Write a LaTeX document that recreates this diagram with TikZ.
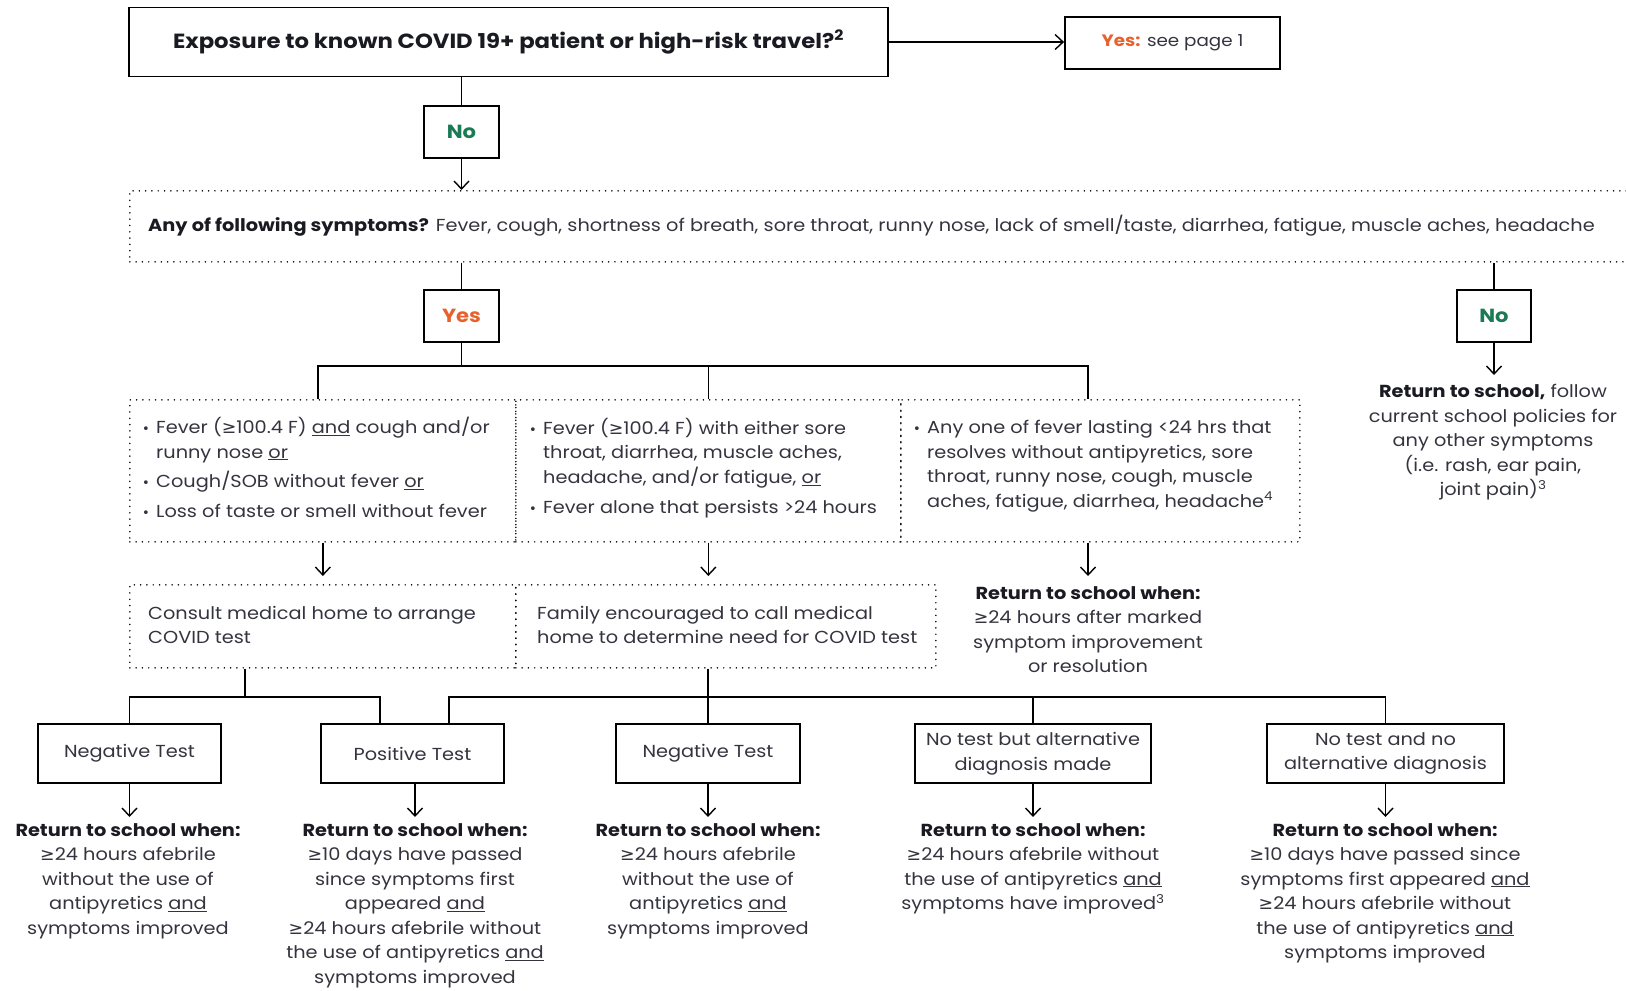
\documentclass[tikz,border=0pt]{standalone}
\usepackage{fontspec}
\setmainfont{Poppins}[FakeStretch=1.11]
\newfontfamily\symfont{DejaVu Sans}
\usetikzlibrary{arrows.meta}
\definecolor{txt}{HTML}{34343F}
\definecolor{dark}{HTML}{1A1A22}
\definecolor{yescol}{HTML}{E8602C}
\definecolor{nocol}{HTML}{1C7A55}
\newcommand{\bodysz}{\fontsize{17.4}{24.5}\selectfont}
\newcommand{\topsz}{\fontsize{20.5}{24}\selectfont}
\newcommand{\ynsz}{\fontsize{19}{24}\selectfont}
\newcommand{\GE}{{\symfont ≥}}
\newcommand{\bul}{\makebox[14pt][l]{{\symfont\fontsize{13}{13}\selectfont •}}}
\newcommand{\ind}{\makebox[14pt]{}}
\newcommand{\und}[1]{\underline{#1}}
\begin{document}
\begin{tikzpicture}[x=1pt,y=-1pt,
  box/.style={draw=black, line width=1.8pt, inner sep=0pt, align=center, font=\bodysz, text=txt},
  dbox/.style={draw=black, line width=1.7pt, dash pattern=on 0pt off 6.3pt, line cap=round, inner sep=0pt},
  ln/.style={line width=1.6pt},
  arr/.style={line width=1.4pt, -{Straight Barb[length=8pt,width=15pt,line width=1.4pt]}},
  txtn/.style={inner sep=0pt, text=txt, font=\bodysz},
]
\useasboundingbox (0,0) rectangle (1626,991);

% top row
\node[box, minimum width=759, minimum height=69, font=\topsz\bfseries, text=dark] (q) at (508.5,42)
  {Exposure to known COVID 19+ patient or high-risk travel?\textsuperscript{2}};
\node[box, minimum width=215, minimum height=52, font=\fontsize{16.5}{20}\selectfont] (yes1) at (1172.5,43)
  {{\color{yescol}\bfseries Yes:} see page 1};
\draw[arr] (q.east) -- (q.east -| yes1.west);

\node[box, minimum width=75, minimum height=52, font=\ynsz] (no1) at (461.5,132) {\color{nocol}\bfseries No};
\draw[ln] (no1.north |- q.south) -- (no1.north);

% symptoms
\node[dbox, minimum width=1560, minimum height=71, anchor=north west] (sym) at (129,190) {};
\draw[arr] (no1.south) -- (no1.south |- sym.north);
\node[txtn, anchor=base west] (symt) at (148,231)
  {{\color{dark}\bfseries Any of following symptoms?} Fever, cough, shortness of breath, sore throat, runny nose, lack of smell/taste, diarrhea, fatigue, muscle aches, headache};

\node[box, minimum width=75, minimum height=52, font=\ynsz] (yes2) at (461.5,316) {\color{yescol}\bfseries Yes};
\node[box, minimum width=74, minimum height=52, font=\ynsz] (no2) at (1494,316) {\color{nocol}\bfseries No};
\draw[ln] (yes2.north |- sym.south) -- (yes2.north);
\draw[ln] (no2.north |- sym.south) -- (no2.north);

\node[txtn, align=center, anchor=north] (rs) at (1493,384)
  {{\color{dark}\bfseries Return to school,} follow\\current school policies for\\any other symptoms\\(i.e. rash, ear pain,\\joint pain)\textsuperscript{3}};
\draw[arr, shorten >=9pt] (no2.south) -- (no2.south |- rs.north);

% three criteria boxes
\node[dbox, minimum width=386, minimum height=142, anchor=north west] (c1) at (129,399) {};
\node[dbox, minimum width=385, minimum height=142, anchor=north west] (c2) at (515,399) {};
\node[dbox, minimum width=399, minimum height=142, anchor=north west] (c3) at (900,399) {};

\coordinate (b1l) at (318,366);
\coordinate (b1r) at (1088,366);
\draw[ln] (yes2.south) -- (yes2.south |- b1l);
\draw[ln] (b1l |- c1.north) -- (b1l) -- (b1r) -- (b1r |- c1.north);
\draw[ln] (c2.north) -- (c2.north |- b1l);

\node[txtn, align=left, anchor=north west] (t1) at (142,417)
  {\bul Fever (\GE100.4 F) \und{and} cough and/or\\\ind runny nose \und{or}\\[5pt]\bul Cough/SOB without fever \und{or}\\[5pt]\bul Loss of taste or smell without fever};
\node[txtn, align=left, anchor=north west] (t2) at (529,418)
  {\bul Fever (\GE100.4 F) with either sore\\\ind throat, diarrhea, muscle aches,\\\ind headache, and/or fatigue, \und{or}\\[6pt]\bul Fever alone that persists >24 hours};
\node[txtn, align=left, anchor=north west] (t3) at (913,420)
  {\bul Any one of fever lasting <24 hrs that\\\ind resolves without antipyretics, sore\\\ind throat, runny nose, cough, muscle\\\ind aches, fatigue, diarrhea, headache\textsuperscript{4}};

% second row
\node[dbox, minimum width=386, minimum height=83, anchor=north west] (d1) at (129,584) {};
\node[dbox, minimum width=420, minimum height=83, anchor=north west] (d2) at (515,584) {};
\draw[arr, shorten >=8pt] (c1.south) -- (c1.south |- d1.north);
\draw[arr, shorten >=8pt] (c2.south) -- (c2.south |- d2.north);

\node[txtn, align=left, anchor=north west] (dt1) at (148,606)
  {Consult medical home to arrange\\COVID test};
\node[txtn, align=left, anchor=north west] (dt2) at (537,606)
  {Family encouraged to call medical\\home to determine need for COVID test};

\node[txtn, align=center, anchor=north] (rw) at (1088,586)
  {{\color{dark}\bfseries Return to school when:}\\\GE24 hours after marked\\symptom improvement\\or resolution};
\draw[arr, shorten >=10pt] (rw.north |- c3.south) -- (rw.north);

% result boxes
\node[box, minimum width=183, minimum height=59] (nt1) at (129.5,753.5) {Negative Test};
\node[box, minimum width=183, minimum height=59] (pt) at (412.5,753.5) {Positive Test};
\node[box, minimum width=184, minimum height=59] (nt2) at (708,753.5) {Negative Test};
\node[box, minimum width=236, minimum height=59] (nb) at (1033,753.5) {No test but alternative\\diagnosis made};
\node[box, minimum width=237, minimum height=59] (nn) at (1385.5,753.5) {No test and no\\alternative diagnosis};

\coordinate (b2l) at (129.5,697);
\coordinate (b2m) at (245,697);
\coordinate (b2r) at (380,697);
\coordinate (b3l) at (449,697);
\coordinate (b3m) at (708,697);
\coordinate (b3r) at (1385.5,697);
\draw[ln] (b2m |- d1.south) -- (b2m);
\draw[ln] (nt1.north) -- (b2l) -- (b2r) -- (b2r |- pt.north);
\draw[ln] (b3m |- d2.south) -- (b3m) -- (nt2.north);
\draw[ln] (b3l |- pt.north) -- (b3l) -- (b3r) -- (nn.north);
\draw[ln] (nb.north |- b3l) -- (nb.north);

% bottom texts
\node[txtn, align=center, anchor=north] (r1) at (128,823)
  {{\color{dark}\bfseries Return to school when:}\\\GE24 hours afebrile\\without the use of\\antipyretics \und{and}\\symptoms improved};
\node[txtn, align=center, anchor=north] (r2) at (415,823)
  {{\color{dark}\bfseries Return to school when:}\\\GE10 days have passed\\since symptoms first\\appeared \und{and}\\\GE24 hours afebrile without\\the use of antipyretics \und{and}\\symptoms improved};
\node[txtn, align=center, anchor=north] (r3) at (708,823)
  {{\color{dark}\bfseries Return to school when:}\\\GE24 hours afebrile\\without the use of\\antipyretics \und{and}\\symptoms improved};
\node[txtn, align=center, anchor=north] (r4) at (1033,823)
  {{\color{dark}\bfseries Return to school when:}\\\GE24 hours afebrile without\\the use of antipyretics \und{and}\\symptoms have improved\textsuperscript{3}};
\node[txtn, align=center, anchor=north] (r5) at (1385,823)
  {{\color{dark}\bfseries Return to school when:}\\\GE10 days have passed since\\symptoms first appeared \und{and}\\\GE24 hours afebrile without\\the use of antipyretics \und{and}\\symptoms improved};

\draw[arr, shorten >=6pt] (nt1.south) -- (nt1.south |- r1.north);
\draw[arr, shorten >=6pt] (r2.north |- pt.south) -- (r2.north);
\draw[arr, shorten >=6pt] (nt2.south) -- (nt2.south |- r3.north);
\draw[arr, shorten >=6pt] (nb.south) -- (nb.south |- r4.north);
\draw[arr, shorten >=6pt] (nn.south) -- (nn.south |- r5.north);
\end{tikzpicture}
\end{document}
